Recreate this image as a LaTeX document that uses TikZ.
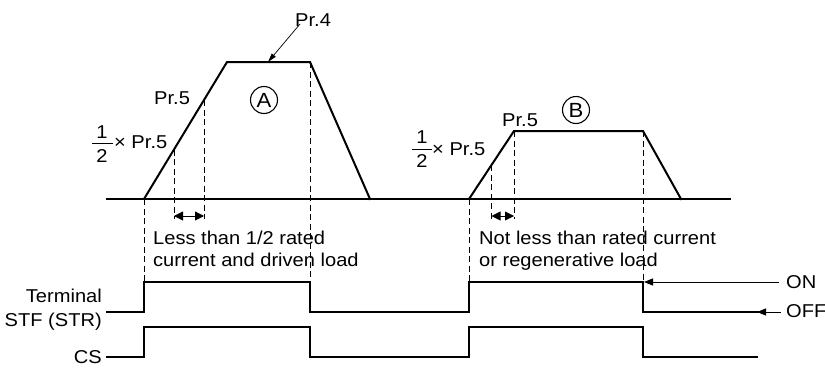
\documentclass[tikz,border=0pt]{standalone}
\usepackage{fontspec}
\setmainfont{Liberation Sans}[FakeStretch=1.08]
\usetikzlibrary{arrows.meta}
\begin{document}
\begin{tikzpicture}[x=1pt,y=-1pt,
  sig/.style={line width=2pt, line join=miter, line cap=rect},
  dsh/.style={line width=0.9pt, dash pattern=on 6pt off 3.5pt},
  fine/.style={line width=0.9pt},
  lbl/.style={inner sep=0pt, font=\fontsize{18.6}{22}\selectfont},
  circ/.style={inner sep=0pt, font=\fontsize{20.5}{22}\selectfont, circle, draw, line width=1.1pt, minimum size=27pt},
  headL/.style={-{Triangle[length=9pt,width=7pt]}},
  dbl/.style={fine, {Triangle[length=9pt,width=9pt]}-{Triangle[length=9pt,width=9pt]}},
]
\useasboundingbox (0,0) rectangle (825,367);

% key points of the speed curves
\coordinate (a0) at (144,199);
\coordinate (a1) at (227,62);
\coordinate (a2) at (310,62);
\coordinate (a3) at (370,199);
\coordinate (a5) at (204,100);
\coordinate (ah) at (174,149.5);
\coordinate (b0) at (469,199);
\coordinate (b1) at (514,131);
\coordinate (b2) at (643,131);
\coordinate (b3) at (681,199);
\coordinate (bh) at (491.5,165);

% time axis
\coordinate (axL) at (107,199);
\coordinate (axR) at (730,199);
\draw[sig] (axL) -- (axR);

% trapezoids
\draw[sig] (a0) -- (a1) -- (a2) -- (a3);
\draw[sig] (b0) -- (b1) -- (b2) -- (b3);

% dashed guide lines
\draw[dsh] (a0) -- (144,282);
\draw[dsh] (ah) -- (174,219);
\draw[dsh] (a5) -- (204,219);
\draw[dsh] (a2) -- (310,282);
\draw[dsh] (b0) -- (469,282);
\draw[dsh] (bh) -- (491.5,219);
\draw[dsh] (b1) -- (514,219);
\draw[dsh] (b2) -- (643,282);

% small dimension arrows
\draw[dbl] (174,216) -- (204,216);
\draw[dbl] (491.5,216) -- (514,216);

% labels on curves
\node[lbl, anchor=base west] (pr4) at (295,26) {Pr.4};
\coordinate (pr4s) at (300,24);
\coordinate (pr4t) at (268,62);
\draw[line width=0.7pt, -{Triangle[length=9pt,width=5pt]}] (pr4s) -- (pr4t);

\node[lbl, anchor=base west] (p5a) at (154,104) {Pr.5};
\node[circ] (ca) at (264,100) {A};
\node[lbl, anchor=base] (n1a) at (102,138) {1};
\node[lbl, anchor=base] (n2a) at (102,162) {2};
\draw[line width=1pt] (92,143) -- (113,143);
\node[lbl, anchor=base west] (hpa) at (114,148) {× Pr.5};

\node[lbl, anchor=base west] (p5b) at (502,126) {Pr.5};
\node[circ] (cb) at (576,110) {B};
\node[lbl, anchor=base] (n1b) at (422,143) {1};
\node[lbl, anchor=base] (n2b) at (422,167) {2};
\draw[line width=1pt] (412,149) -- (432,149);
\node[lbl, anchor=base west] (hpb) at (432,155) {× Pr.5};

% descriptions
\node[lbl, anchor=base west] (da1) at (153,244) {Less than 1/2 rated};
\node[lbl, anchor=base west] (da2) at (153,266) {current and driven load};
\node[lbl, anchor=base west] (db1) at (479,244) {Not less than rated current};
\node[lbl, anchor=base west] (db2) at (479,266) {or regenerative load};

% signal labels
\node[lbl, anchor=base east] (lt) at (102,302) {Terminal};
\node[lbl, anchor=base east] (ls) at (102,326) {STF (STR)};
\node[lbl, anchor=base east] (lc) at (102,363) {CS};

% signals
\draw[sig] (107,312) -- (144,312) -- (144,282) -- (310,282) -- (310,312)
  -- (469,312) -- (469,282) -- (643,282) -- (643,312) -- (758,312);
\draw[sig] (107,357) -- (144,357) -- (144,327) -- (310,327) -- (310,357)
  -- (469,357) -- (469,327) -- (643,327) -- (643,357) -- (757,357);

% ON / OFF pointers
\node[lbl, anchor=base west] (on) at (786,288) {ON};
\node[lbl, anchor=base west] (off) at (786,317) {OFF};
\coordinate (onS) at (779,282);
\coordinate (onT) at (644,282);
\coordinate (offS) at (781,312);
\coordinate (offT) at (757,312);
\draw[fine, headL] (onS) -- (onT);
\draw[fine, headL] (offS) -- (offT);
\end{tikzpicture}
\end{document}
